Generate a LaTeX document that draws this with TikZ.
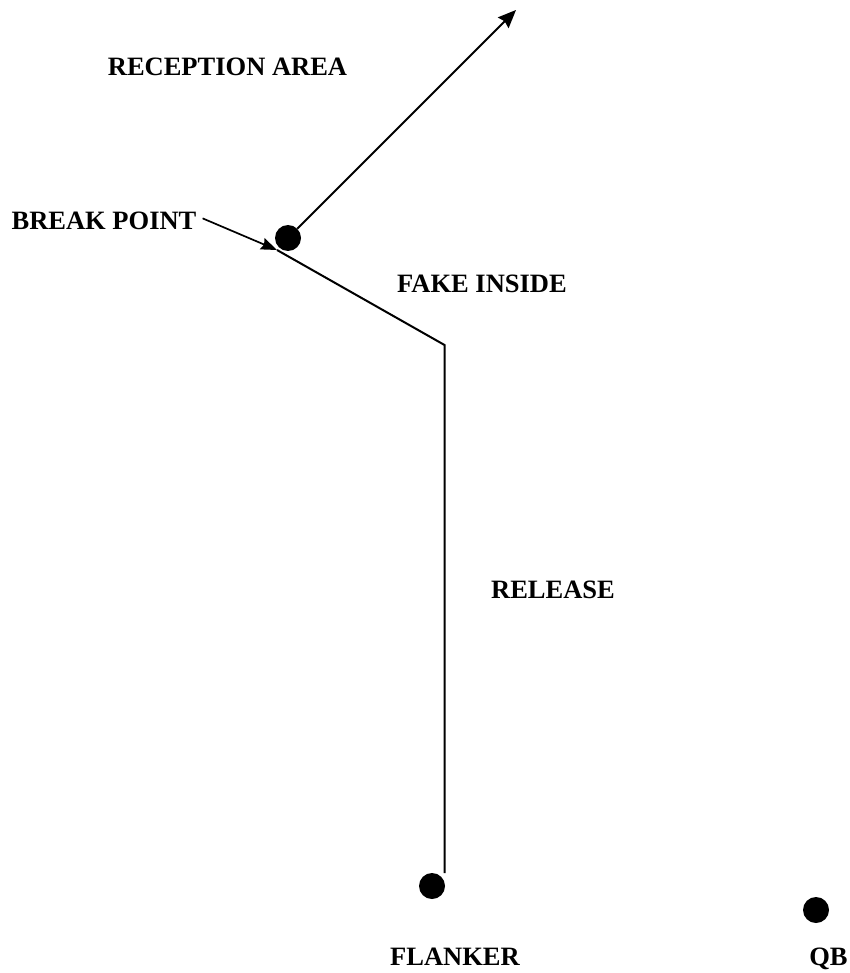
\documentclass[tikz,border=0pt]{standalone}
\usepackage{fontspec}
\setmainfont{Liberation Serif}
\usetikzlibrary{arrows.meta}
\tikzset{
    player/.style={circle,fill=black,inner sep=0pt,minimum size=26pt},
    lbl/.style={anchor=base,inner sep=0pt,font=\fontsize{26.5}{30}\selectfont\bfseries},
    route/.style={line width=2pt},
}
\begin{document}
\begin{tikzpicture}[x=1pt,y=-1pt]
        \useasboundingbox (0,0) rectangle (850,973);
        % players
        \node[player] (bp) at (288,238) {};
        \node[player] (flanker) at (432,886) {};
        \node[player] (qb) at (816,910) {};
        % labels
        \node[lbl] (reception) at (227.5,76) {RECEPTION AREA};
        \node[lbl] (breaktxt) at (104,230) {BREAK POINT};
        \node[lbl] (fake) at (482,292) {FAKE INSIDE};
        \node[lbl] (release) at (553,598) {RELEASE};
        \node[lbl] (flankertxt) at (455,965) {FLANKER};
        \node[lbl] (qbtxt) at (828.5,965) {QB};
        % route
        \coordinate (start) at (444.5,873);
        \coordinate (turn) at (444.5,345);
        \coordinate (brk) at (277,250);
        \coordinate (tip) at (516,10);
        \draw[route] (start) -- (turn) -- (brk);
        \draw[route,-{Stealth[length=18pt,width=15pt,inset=2pt]}] (bp) -- (tip);
        \draw[line width=1.7pt,-{Stealth[length=16pt,width=12pt,inset=2pt]}]
            (breaktxt.east) ++(6,-3) coordinate (bfrom) (bfrom) -- (brk);
    \end{tikzpicture}
\end{document}
